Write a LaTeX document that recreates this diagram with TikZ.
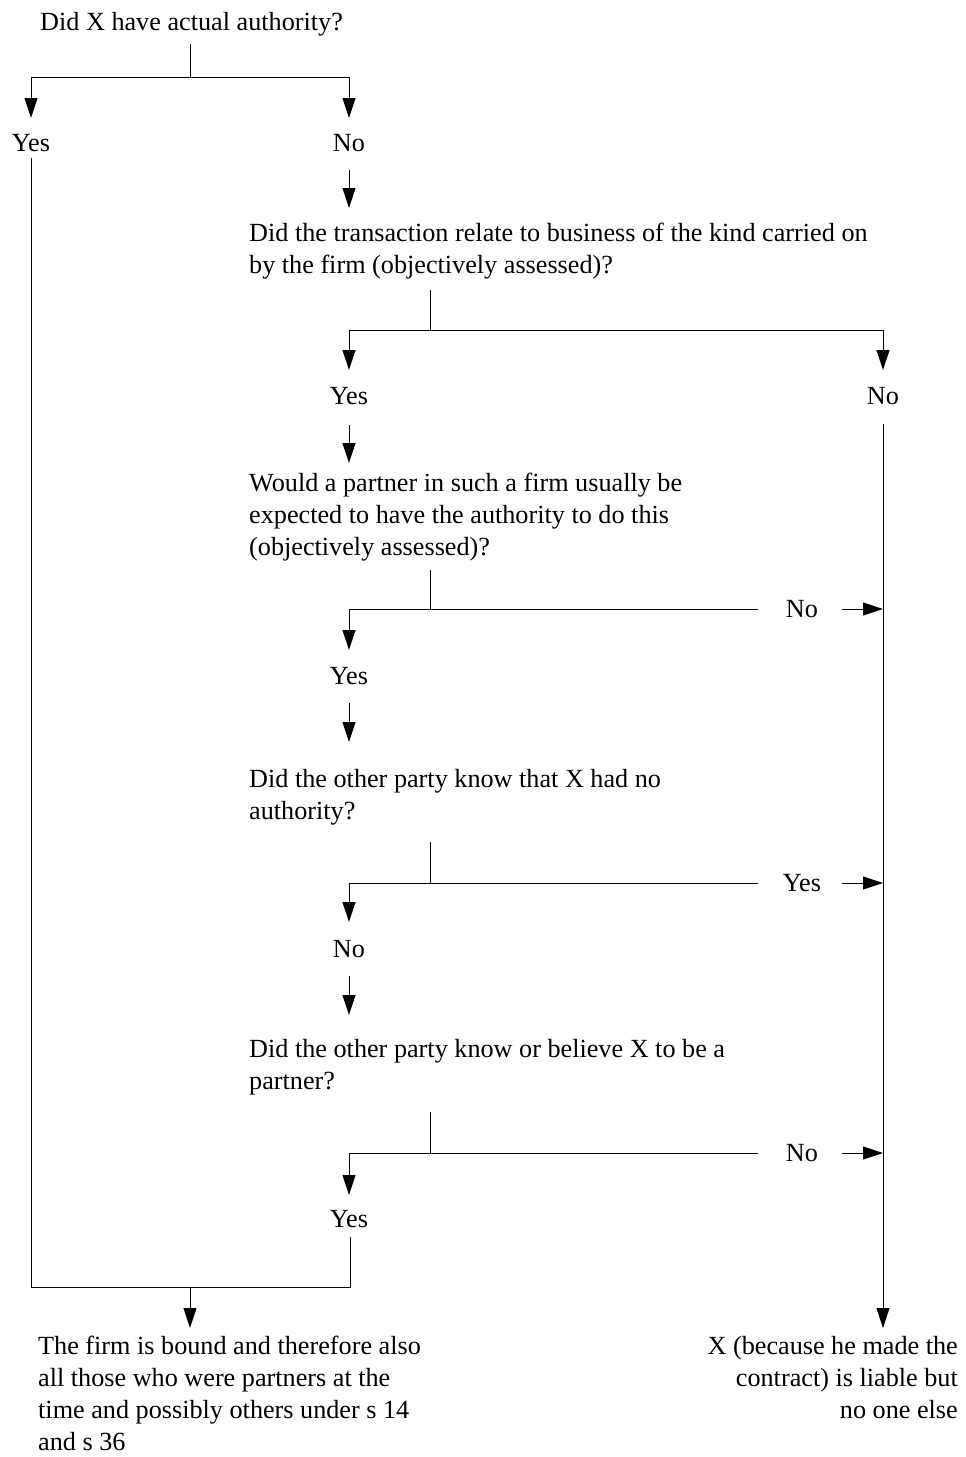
\documentclass[tikz,border=0pt]{standalone}
\usepackage{fontspec}
\setmainfont{Liberation Serif}
\usetikzlibrary{arrows.meta}
\begin{document}
\begin{tikzpicture}[x=1pt,y=-1pt,
  txt/.style={inner sep=0pt, font=\fontsize{26.2}{32}\selectfont},
  lbl/.style={txt, anchor=base},
  qbox/.style={txt, anchor=base west},
  conn/.style={line width=1pt},
  arr/.style={conn, -{Triangle[length=20pt,width=13pt]}}]
\useasboundingbox (0,0) rectangle (966,1457);

% questions
\node[qbox] (q1) at (40,30) {Did X have actual authority?};
\node[qbox] (q2) at (249,241) {\begin{tabular}[t]{@{}l@{}}Did the transaction relate to business of the kind carried on\\ by the firm (objectively assessed)?\end{tabular}};
\node[qbox] (q3) at (249,491) {\begin{tabular}[t]{@{}l@{}}Would a partner in such a firm usually be\\ expected to have the authority to do this\\ (objectively assessed)?\end{tabular}};
\node[qbox] (q4) at (249,787) {\begin{tabular}[t]{@{}l@{}}Did the other party know that X had no\\ authority?\end{tabular}};
\node[qbox] (q5) at (249,1057) {\begin{tabular}[t]{@{}l@{}}Did the other party know or believe X to be a\\ partner?\end{tabular}};
\node[qbox] (bound) at (38,1354) {\begin{tabular}[t]{@{}l@{}}The firm is bound and therefore also\\ all those who were partners at the\\ time and possibly others under s 14\\ and s 36\end{tabular}};
\node[txt, anchor=base east] (liable) at (958,1354) {\begin{tabular}[t]{@{}r@{}}X (because he made the\\ contract) is liable but\\ no one else\end{tabular}};

% labels
\node[lbl] (y1) at (31,151) {Yes};
\node[lbl] (n1) at (349,151) {No};
\node[lbl] (y2) at (349,404) {Yes};
\node[lbl] (n2) at (883,404) {No};
\node[lbl] (n3) at (802,617) {No};
\node[lbl] (y3) at (349,684) {Yes};
\node[lbl] (y4) at (802,891) {Yes};
\node[lbl] (n4) at (349,957) {No};
\node[lbl] (n5) at (802,1161) {No};
\node[lbl] (y5) at (349,1227) {Yes};

% junction coordinates
\coordinate (t1) at (190,44);  \coordinate (j1) at (190,77);
\coordinate (y1tip) at (31,118); \coordinate (n1tip) at (349,118);
\coordinate (n1s) at (349,170);  \coordinate (n1e) at (349,208);
\coordinate (t2) at (430,290);  \coordinate (j2) at (430,330);
\coordinate (y2tip) at (349,370); \coordinate (n2tip) at (883,370);
\coordinate (y2s) at (349,425);  \coordinate (y2e) at (349,463);
\coordinate (t3) at (430,570);  \coordinate (j3) at (430,609);
\coordinate (y3tip) at (349,650); \coordinate (r3) at (758,609);
\coordinate (a3s) at (842,609);  \coordinate (a3e) at (883,609);
\coordinate (y3s) at (349,703);  \coordinate (y3e) at (349,742);
\coordinate (t4) at (430,842);  \coordinate (j4) at (430,883);
\coordinate (n4tip) at (349,922); \coordinate (r4) at (758,883);
\coordinate (a4s) at (842,883);  \coordinate (a4e) at (883,883);
\coordinate (n4s) at (349,976);  \coordinate (n4e) at (349,1015);
\coordinate (t5) at (430,1112); \coordinate (j5) at (430,1153);
\coordinate (y5tip) at (349,1195); \coordinate (r5) at (758,1153);
\coordinate (a5s) at (842,1153); \coordinate (a5e) at (883,1153);
\coordinate (y1s) at (31,158);   \coordinate (y5s) at (350,1237);
\coordinate (jb) at (190,1287);  \coordinate (btip) at (190,1328);
\coordinate (rs) at (883,424);   \coordinate (rtip) at (883,1328);

% connectors
\draw[conn] (t1) -- (j1);
\draw[arr] (j1) -| (y1tip);
\draw[arr] (j1) -| (n1tip);
\draw[arr] (n1s) -- (n1e);

\draw[conn] (t2) -- (j2);
\draw[arr] (j2) -| (y2tip);
\draw[arr] (j2) -| (n2tip);
\draw[arr] (y2s) -- (y2e);

\draw[conn] (t3) -- (j3);
\draw[arr] (j3) -| (y3tip);
\draw[conn] (j3) -- (r3);
\draw[arr] (a3s) -- (a3e);
\draw[arr] (y3s) -- (y3e);

\draw[conn] (t4) -- (j4);
\draw[arr] (j4) -| (n4tip);
\draw[conn] (j4) -- (r4);
\draw[arr] (a4s) -- (a4e);
\draw[arr] (n4s) -- (n4e);

\draw[conn] (t5) -- (j5);
\draw[arr] (j5) -| (y5tip);
\draw[conn] (j5) -- (r5);
\draw[arr] (a5s) -- (a5e);

\draw[conn] (y1s) |- (jb) -| (y5s);
\draw[arr] (jb) -- (btip);
\draw[arr] (rs) -- (rtip);
\end{tikzpicture}
\end{document}
